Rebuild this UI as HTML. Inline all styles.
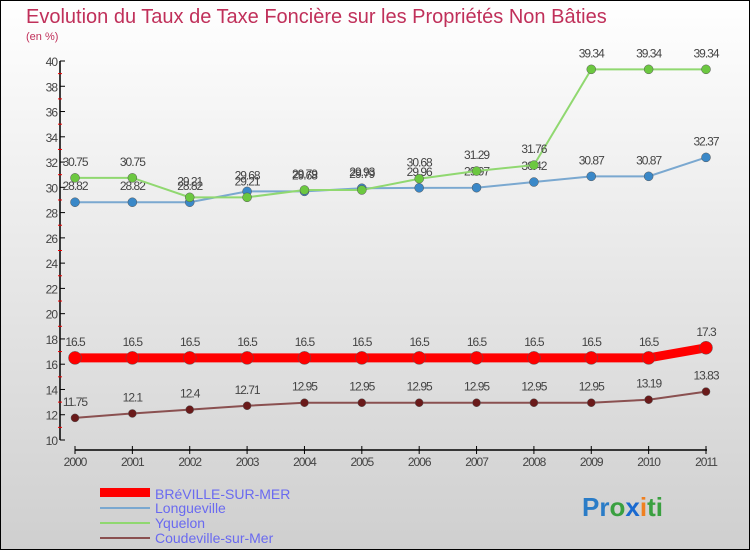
<!DOCTYPE html>
<html><head><meta charset="utf-8"><style>
body{margin:0;width:750px;height:550px;overflow:hidden;font-family:"Liberation Sans",sans-serif}
svg{display:block}
</style></head><body>
<svg id="chart" width="750" height="550" xmlns="http://www.w3.org/2000/svg">
<defs><linearGradient id="bg" x1="0" y1="0" x2="0" y2="1"><stop offset="0" stop-color="#ffffff"/><stop offset="1" stop-color="#cfcfcf"/></linearGradient></defs>
<rect x="0.5" y="0.5" width="749" height="549" fill="url(#bg)" stroke="#000"/>
<text x="26" y="23" font-size="20" fill="#c0305a">Evolution du Taux de Taxe Foncière sur les Propriétés Non Bâties</text>
<text x="26" y="40" font-size="11" fill="#c0305a">(en %)</text>
<g id="axes"></g>
<g id="series"></g>
<g>
<rect x="100" y="488" width="50" height="9" fill="#f00"/>
<text x="155" y="499" font-size="14" fill="#6a6af0">BRéVILLE-SUR-MER</text>
<line x1="100" y1="508" x2="150" y2="508" stroke="#7aa8d0" stroke-width="2"/>
<text x="155" y="513" font-size="14" fill="#6a6af0">Longueville</text>
<line x1="100" y1="523" x2="150" y2="523" stroke="#90d870" stroke-width="2"/>
<text x="155" y="528" font-size="14" fill="#6a6af0">Yquelon</text>
<line x1="100" y1="538" x2="150" y2="538" stroke="#8a5050" stroke-width="2"/>
<text x="155" y="543" font-size="14" fill="#6a6af0">Coudeville-sur-Mer</text>
</g>
<text x="582" y="516" font-size="26" font-weight="bold"><tspan fill="#2a7cc7">Pr</tspan><tspan fill="#3aa040">o</tspan><tspan fill="#1a6ad0">x</tspan><tspan fill="#f08020">i</tspan><tspan fill="#3aa040">ti</tspan></text>
</svg>
<script>
const years=["2000","2001","2002","2003","2004","2005","2006","2007","2008","2009","2010","2011"];
const yTicks=[10,12,14,16,18,20,22,24,26,28,30,32,34,36,38,40];
const breville=[16.5,16.5,16.5,16.5,16.5,16.5,16.5,16.5,16.5,16.5,16.5,17.3];
const longueville=[28.82,28.82,28.82,29.68,29.68,29.93,29.96,29.97,30.42,30.87,30.87,32.37];
const yquelon=[30.75,30.75,29.21,29.21,29.79,29.79,30.68,31.29,31.76,39.34,39.34,39.34];
const coudeville=[11.75,12.1,12.4,12.71,12.95,12.95,12.95,12.95,12.95,12.95,13.19,13.83];
const NS="http://www.w3.org/2000/svg";
const xS=i=>75+i*(631/(years.length-1));
const yS=v=>440-(v-10)*(379/30);
function mk(tag,attrs,parent){const e=document.createElementNS(NS,tag);for(const k in attrs)e.setAttribute(k,attrs[k]);parent.appendChild(e);return e;}
const ax=document.getElementById('axes');
let l=mk('line',{x1:60,y1:yS(40),x2:60,y2:yS(10),stroke:'#000','stroke-width':1.5},ax);


yTicks.forEach(v=>{
 const t=mk('line',{x1:60,y1:yS(v),x2:65,y2:yS(v),stroke:'#000'},ax);
 
 
 const tx=mk('text',{x:57,y:yS(v)+5,'font-size':12,'text-anchor':'end',fill:'#444','letter-spacing':'-1'},ax);
 tx.textContent=v;
 
 
 if(v<40){const m=mk('line',{x1:58,y1:yS(v+1),x2:62,y2:yS(v+1),stroke:'#e00'},ax);
 
 }
});
l=mk('line',{x1:75,y1:450,x2:707,y2:450,stroke:'#000','stroke-width':1.5},ax);


years.forEach((y,i)=>{
 const t=mk('line',{x1:xS(i),y1:446,x2:xS(i),y2:454,stroke:'#000'},ax);
 
 
 const tx=mk('text',{x:xS(i),y:466,'font-size':12,'text-anchor':'middle',fill:'#444','letter-spacing':'-1'},ax);
 tx.textContent=y;
 
 
});
const sg=document.getElementById('series');
function draw(data,name,color,dot,lw,r){
 const g=mk('g',{},sg);
 
 
 const p=mk('polyline',{points:data.map((v,i)=>xS(i)+','+yS(v)).join(' '),fill:'none',stroke:color,'stroke-width':lw},g);
 
 
 data.forEach((v,i)=>{
  const c=mk('circle',{cx:xS(i),cy:yS(v),r:r,fill:dot,stroke:'#555','stroke-width':0.5},g);
  
  
  const t=mk('text',{x:xS(i),y:yS(v)-12,'font-size':12,'text-anchor':'middle',fill:'#444','letter-spacing':'-1'},g);
  t.textContent=v;
  
  
 });
}
draw(coudeville,'coudeville','#8a5050','#6a1a1a',2,4);
draw(longueville,'longueville','#7aa8d0','#3a88c8',2,4.5);
draw(yquelon,'yquelon','#90d870','#6cc840',2,4.5);
draw(breville,'breville','#f00','#f00',9,6.5);
</script>
</body></html>
